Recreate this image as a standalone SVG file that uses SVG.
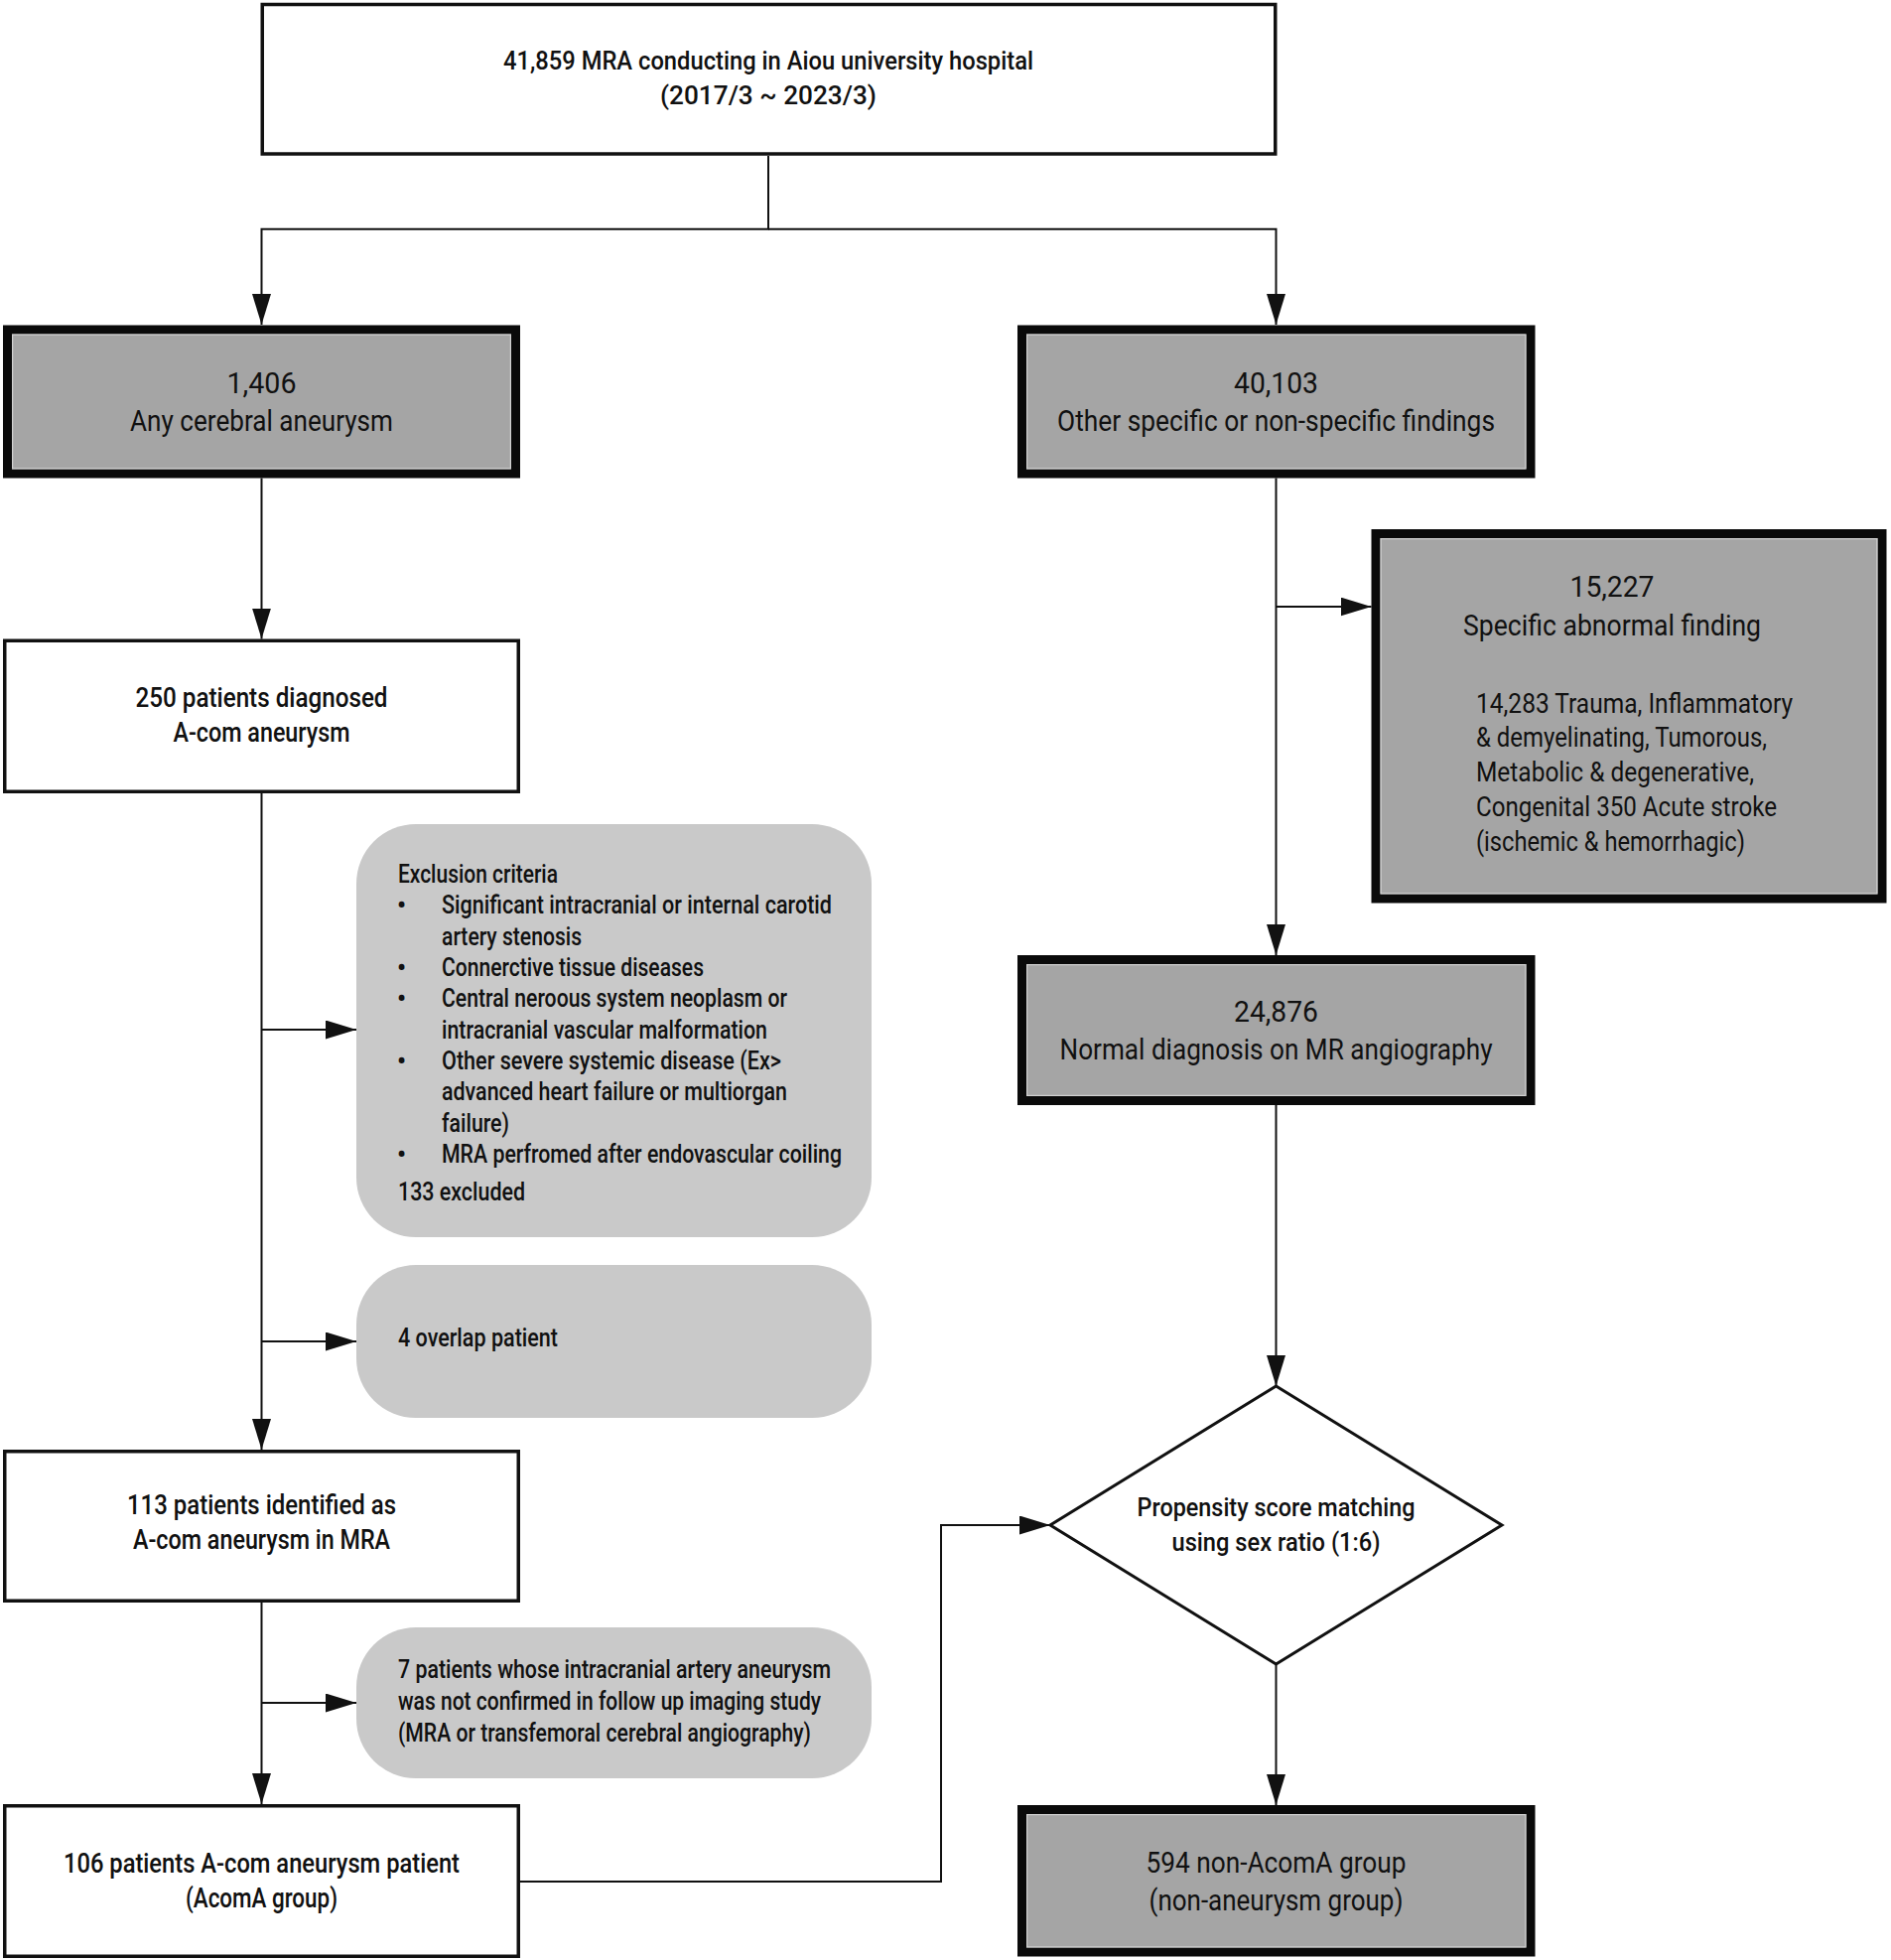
<svg xmlns="http://www.w3.org/2000/svg" width="1905" height="1974" viewBox="0 0 1905 1974">
<style>
.t{font-family:"Roboto","Liberation Sans",sans-serif;fill:#111}
.m{font-weight:500}
.c{text-anchor:middle}
.wb{fill:#fff;stroke:#111;stroke-width:3.5}
.gb{fill:#a5a5a5;stroke:#0a0a0a;stroke-width:9}
.gi{fill:none;stroke:#d2d2d2;stroke-width:1.2}
.rb{fill:#c9c9c9;stroke:none}
.cn{fill:none;stroke:#111;stroke-width:2}
.bl{font-size:25px;font-weight:700}
.f30{font-size:30px}.f27{font-size:27px}.f26{font-size:26px}.f25{font-size:25px}.f24{font-size:24px}
</style>
<defs>
<marker id="ah" markerUnits="userSpaceOnUse" markerWidth="31" markerHeight="19" refX="31" refY="9.5" orient="auto">
<path d="M0,0 L31,9.5 L0,19 z" fill="#111"/>
</marker>
</defs>
<rect width="1905" height="1974" fill="#fff"/>
<g id="connectors">
<path class="cn" d="M774,157 V230.7 H263.5 V327" marker-end="url(#ah)"/>
<path class="cn" d="M774,230.7 H1285.5 V327" marker-end="url(#ah)"/>
<path class="cn" d="M263.5,481.5 V643.5" marker-end="url(#ah)"/>
<path class="cn" d="M263.5,799 V1460" marker-end="url(#ah)"/>
<path class="cn" d="M263.5,1037 H359" marker-end="url(#ah)"/>
<path class="cn" d="M263.5,1351 H359" marker-end="url(#ah)"/>
<path class="cn" d="M263.5,1614 V1817" marker-end="url(#ah)"/>
<path class="cn" d="M263.5,1715 H359" marker-end="url(#ah)"/>
<path class="cn" d="M524,1895 H948 V1536 H1058" marker-end="url(#ah)"/>
<path class="cn" d="M1285.5,481.5 V962" marker-end="url(#ah)"/>
<path class="cn" d="M1285.5,611 H1381.5" marker-end="url(#ah)"/>
<path class="cn" d="M1285.5,1113 V1396" marker-end="url(#ah)"/>
<path class="cn" d="M1285.5,1676 V1818" marker-end="url(#ah)"/>
</g>
<g id="n-total">
<rect class="wb" x="264.25" y="4.5" width="1020.5" height="150.5"/>
<text class="t m c f25" x="774" y="70" textLength="534" lengthAdjust="spacingAndGlyphs">41,859 MRA conducting in Aiou university hospital</text>
<text class="t m c f25" x="774" y="105" textLength="218" lengthAdjust="spacingAndGlyphs">(2017/3 ~ 2023/3)</text>
</g>
<g id="n-any-aneurysm">
<rect class="gb" x="7.5" y="332" width="512" height="145"/>
<rect class="gi" x="12.6" y="337.1" width="501.8" height="134.8"/>
<text class="t c f30" x="263.5" y="396" textLength="70" lengthAdjust="spacingAndGlyphs">1,406</text>
<text class="t c f30" x="263.5" y="434" textLength="265" lengthAdjust="spacingAndGlyphs">Any cerebral aneurysm</text>
</g>
<g id="n-other-findings">
<rect class="gb" x="1029.5" y="332" width="512.5" height="145"/>
<rect class="gi" x="1034.6" y="337.1" width="502.3" height="134.8"/>
<text class="t c f30" x="1285.5" y="396" textLength="85" lengthAdjust="spacingAndGlyphs">40,103</text>
<text class="t c f30" x="1285.5" y="434" textLength="441" lengthAdjust="spacingAndGlyphs">Other specific or non-specific findings</text>
</g>
<g id="n-specific">
<rect class="gb" x="1386" y="537.5" width="510" height="367.5"/>
<rect class="gi" x="1391.1" y="542.6" width="499.8" height="357.3"/>
<text class="t c f30" x="1624" y="601" textLength="85" lengthAdjust="spacingAndGlyphs">15,227</text>
<text class="t c f30" x="1624" y="640" textLength="300" lengthAdjust="spacingAndGlyphs">Specific abnormal finding</text>
<text class="t f27" x="1487" y="718" textLength="319" lengthAdjust="spacingAndGlyphs">14,283 Trauma, Inflammatory</text>
<text class="t f27" x="1487" y="752" textLength="293" lengthAdjust="spacingAndGlyphs">&amp; demyelinating, Tumorous,</text>
<text class="t f27" x="1487" y="787" textLength="280" lengthAdjust="spacingAndGlyphs">Metabolic &amp; degenerative,</text>
<text class="t f27" x="1487" y="822" textLength="303" lengthAdjust="spacingAndGlyphs">Congenital 350 Acute stroke</text>
<text class="t f27" x="1487" y="857" textLength="271" lengthAdjust="spacingAndGlyphs">(ischemic &amp; hemorrhagic)</text>
</g>
<g id="n-normal">
<rect class="gb" x="1029.5" y="966.5" width="512.5" height="142"/>
<rect class="gi" x="1034.6" y="971.6" width="502.3" height="131.8"/>
<text class="t c f30" x="1285.5" y="1029" textLength="85" lengthAdjust="spacingAndGlyphs">24,876</text>
<text class="t c f30" x="1285.5" y="1067" textLength="436" lengthAdjust="spacingAndGlyphs">Normal diagnosis on MR angiography</text>
</g>
<g id="n-250">
<rect class="wb" x="4.75" y="645.25" width="517.5" height="152"/>
<text class="t m c f27" x="263.5" y="712" textLength="254" lengthAdjust="spacingAndGlyphs">250 patients diagnosed</text>
<text class="t m c f27" x="263.5" y="747" textLength="178" lengthAdjust="spacingAndGlyphs">A-com aneurysm</text>
</g>
<g id="n-exclusion">
<rect class="rb" x="359" y="830" width="519" height="416" rx="60" ry="60"/>
<text class="t m f25" x="401" y="889" textLength="161" lengthAdjust="spacingAndGlyphs">Exclusion criteria</text>
<text class="t bl" x="400" y="920">•</text>
<text class="t m f25" x="445" y="920" textLength="393" lengthAdjust="spacingAndGlyphs">Significant intracranial or internal carotid</text>
<text class="t m f25" x="445" y="952" textLength="141" lengthAdjust="spacingAndGlyphs">artery stenosis</text>
<text class="t bl" x="400" y="983">•</text>
<text class="t m f25" x="445" y="983" textLength="264" lengthAdjust="spacingAndGlyphs">Connerctive tissue diseases</text>
<text class="t bl" x="400" y="1014">•</text>
<text class="t m f25" x="445" y="1014" textLength="348" lengthAdjust="spacingAndGlyphs">Central neroous system neoplasm or</text>
<text class="t m f25" x="445" y="1046" textLength="328" lengthAdjust="spacingAndGlyphs">intracranial vascular malformation</text>
<text class="t bl" x="400" y="1077">•</text>
<text class="t m f25" x="445" y="1077" textLength="342" lengthAdjust="spacingAndGlyphs">Other severe systemic disease (Ex&gt;</text>
<text class="t m f25" x="445" y="1108" textLength="348" lengthAdjust="spacingAndGlyphs">advanced heart failure or multiorgan</text>
<text class="t m f25" x="445" y="1140" textLength="68" lengthAdjust="spacingAndGlyphs">failure)</text>
<text class="t bl" x="400" y="1171">•</text>
<text class="t m f25" x="445" y="1171" textLength="403" lengthAdjust="spacingAndGlyphs">MRA perfromed after endovascular coiling</text>
<text class="t m f25" x="401" y="1209" textLength="128" lengthAdjust="spacingAndGlyphs">133 excluded</text>
</g>
<g id="n-overlap">
<rect class="rb" x="359" y="1274" width="519" height="154" rx="60" ry="60"/>
<text class="t m f25" x="401" y="1356" textLength="161" lengthAdjust="spacingAndGlyphs">4 overlap patient</text>
</g>
<g id="n-113">
<rect class="wb" x="4.75" y="1461.75" width="517.5" height="150.5"/>
<text class="t m c f27" x="263.5" y="1525" textLength="271" lengthAdjust="spacingAndGlyphs">113 patients identified as</text>
<text class="t m c f27" x="263.5" y="1560" textLength="259" lengthAdjust="spacingAndGlyphs">A-com aneurysm in MRA</text>
</g>
<g id="n-7">
<rect class="rb" x="359" y="1639" width="519" height="152" rx="60" ry="60"/>
<text class="t m f25" x="401" y="1690" textLength="436" lengthAdjust="spacingAndGlyphs">7 patients whose intracranial artery aneurysm</text>
<text class="t m f25" x="401" y="1722" textLength="426" lengthAdjust="spacingAndGlyphs">was not confirmed in follow up imaging study</text>
<text class="t m f25" x="401" y="1754" textLength="416" lengthAdjust="spacingAndGlyphs">(MRA or transfemoral cerebral angiography)</text>
</g>
<g id="n-106">
<rect class="wb" x="4.75" y="1818.75" width="517.5" height="151.5"/>
<text class="t m c f27" x="263.5" y="1886" textLength="399" lengthAdjust="spacingAndGlyphs">106 patients A-com aneurysm patient</text>
<text class="t m c f27" x="263.5" y="1921" textLength="153" lengthAdjust="spacingAndGlyphs">(AcomA group)</text>
</g>
<g id="n-psm">
<polygon points="1285.5,1396 1513,1536 1285.5,1676 1058,1536" fill="#fff" stroke="#111" stroke-width="3"/>
<text class="t m c f26" x="1285.5" y="1527" textLength="280" lengthAdjust="spacingAndGlyphs">Propensity score matching</text>
<text class="t m c f26" x="1285.5" y="1562" textLength="210" lengthAdjust="spacingAndGlyphs">using sex ratio (1:6)</text>
</g>
<g id="n-594">
<rect class="gb" x="1029.5" y="1822.5" width="512.5" height="143.5"/>
<rect class="gi" x="1034.6" y="1827.6" width="502.3" height="133.3"/>
<text class="t c f30" x="1285.5" y="1886" textLength="262" lengthAdjust="spacingAndGlyphs">594 non-AcomA group</text>
<text class="t c f30" x="1285.5" y="1924" textLength="256" lengthAdjust="spacingAndGlyphs">(non-aneurysm group)</text>
</g>
</svg>
